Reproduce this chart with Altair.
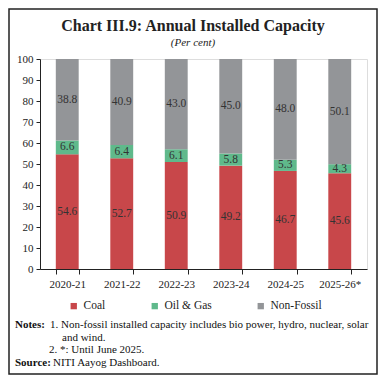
import altair as alt
import pandas as pd

years = ["2020-21", "2021-22", "2022-23", "2023-24", "2024-25", "2025-26*"]
coal = [54.6, 52.7, 50.9, 49.2, 46.7, 45.6]
oil_gas = [6.6, 6.4, 6.1, 5.8, 5.3, 4.3]
non_fossil = [38.8, 40.9, 43.0, 45.0, 48.0, 50.1]
sources = ["Coal", "Oil & Gas", "Non-Fossil"]
colors = ["#C8474A", "#5FB98B", "#939598"]
y_ticks = [0, 10, 20, 30, 40, 50, 60, 70, 80, 90, 100]

rows = []
for i, y in enumerate(years):
    for k, (s, vals) in enumerate(zip(sources, [coal, oil_gas, non_fossil])):
        rows.append({"year": y, "source": s, "value": vals[i], "order": k})
df = pd.DataFrame(rows)

FONT = "Liberation Serif"

x_axis = alt.Axis(labelAngle=0, labelFontSize=11, labelFont=FONT, labelColor="#222",
                  domainColor="#222", tickColor="#222", tickBand="extent",
                  tickSize=5, labelPadding=4, title=None)
y_axis = alt.Axis(values=y_ticks, labelFontSize=11, labelFont=FONT,
                  labelColor="#222", domainColor="#222", tickColor="#222",
                  tickSize=4, grid=False, labelPadding=3, labelOverlap=False, title=None)
x_scale = alt.Scale(paddingInner=0.58, paddingOuter=0.29)
y_scale = alt.Scale(domain=[0, 100])

bars = alt.Chart(df).mark_bar().encode(
    x=alt.X("year:N", sort=years, title=None, scale=x_scale, axis=x_axis),
    y=alt.Y("value:Q", stack="zero", title=None, scale=y_scale, axis=y_axis),
    color=alt.Color("source:N", sort=sources,
                    scale=alt.Scale(domain=sources, range=colors),
                    legend=alt.Legend(title=None, orient="none", direction="horizontal",
                                      legendX=28, legendY=241, symbolType="square",
                                      symbolSize=40, labelFont=FONT, labelFontSize=11.5,
                                      labelColor="#222", columnPadding=43,
                                      symbolStrokeWidth=0)),
    order=alt.Order("order:Q"),
)

labels = alt.Chart(df).transform_stack(
    stack="value", groupby=["year"], as_=["v0", "v1"], sort=[alt.SortField("order")]
).transform_calculate(mid="(datum.v0 + datum.v1) / 2").mark_text(
    font=FONT, fontSize=11.5, color="#333"
).encode(
    x=alt.X("year:N", sort=years, title=None, scale=x_scale, axis=x_axis),
    y=alt.Y("mid:Q", title=None, scale=y_scale, axis=y_axis),
    text=alt.Text("value:Q", format=".1f"),
)

title_df = pd.DataFrame({
    "t": ["Chart III.9: Annual Installed Capacity", "(Per cent)"],
    "x": [153, 153], "y": [-33, -16],
})
title_main = alt.Chart(title_df).transform_filter("datum.y < -20").mark_text(
    font=FONT, fontSize=16, fontWeight="bold", color="#222", baseline="middle", align="center"
).encode(x=alt.X("x:Q", scale=None), y=alt.Y("y:Q", scale=None), text="t:N")
title_sub = alt.Chart(title_df).transform_filter("datum.y > -20").mark_text(
    font=FONT, fontSize=11, fontStyle="italic", color="#222", baseline="middle", align="center"
).encode(x=alt.X("x:Q", scale=None), y=alt.Y("y:Q", scale=None), text="t:N")

notes_df = pd.DataFrame({
    "t": ["Notes:", "1.  Non-fossil installed capacity includes bio power, hydro, nuclear, solar",
          "and wind.", "2.  *: Until June 2025.", "Source:", "NITI Aayog Dashboard."],
    "x": [-25, 10, 22, 9, -25, 13],
    "y": [266, 266, 279, 291, 304, 304],
    "w": ["bold", "normal", "normal", "normal", "bold", "normal"],
})

notes_bold = alt.Chart(notes_df).transform_filter("datum.w == 'bold'").mark_text(
    font=FONT, fontSize=11, align="left", baseline="middle", color="#111", fontWeight="bold"
).encode(x=alt.X("x:Q", scale=None), y=alt.Y("y:Q", scale=None), text="t:N")

notes_norm = alt.Chart(notes_df).transform_filter("datum.w == 'normal'").mark_text(
    font=FONT, fontSize=11, align="left", baseline="middle", color="#111"
).encode(x=alt.X("x:Q", scale=None), y=alt.Y("y:Q", scale=None), text="t:N")

border_df = pd.DataFrame({"a": [0]})
border = alt.Chart(border_df).mark_rect(fill=None, stroke="#222", strokeWidth=1.5).encode(
    x=alt.value(-31), x2=alt.value(337), y=alt.value(-50), y2=alt.value(315),
)

chart = alt.layer(border, bars, labels, title_main, title_sub, notes_bold, notes_norm).properties(
    width=327, height=210,
    padding={"left": 32, "top": 51, "right": 11, "bottom": 106},
    autosize=alt.AutoSizeParams(type="none"),
).configure_view(stroke=None).configure(background="white")

chart.save("out.html", embed_options={"renderer": "svg", "actions": False})
